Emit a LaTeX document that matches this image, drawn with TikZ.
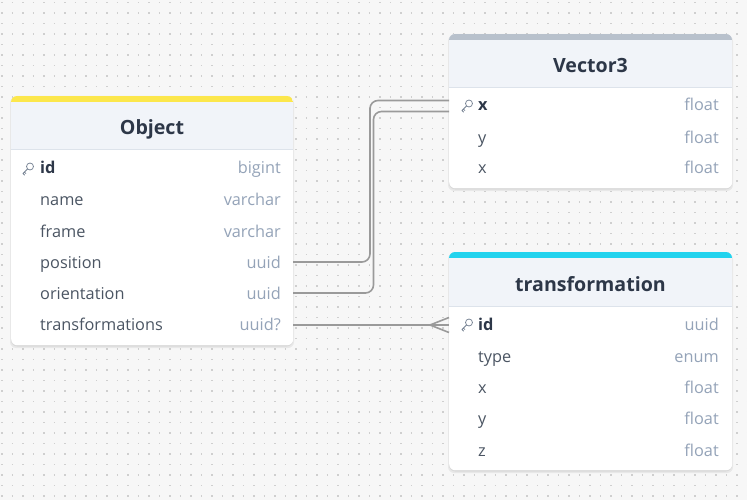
\documentclass[tikz,border=0pt]{standalone}
\usepackage{fontspec}
\setmainfont{Open Sans}
\usetikzlibrary{calc}
\definecolor{bg}{HTML}{F7F7F7}
\definecolor{dotc}{HTML}{CFCFCF}
\definecolor{hdr}{HTML}{F1F4F9}
\definecolor{sep}{HTML}{DDE3EB}
\definecolor{titlec}{HTML}{2D3748}
\definecolor{fieldc}{HTML}{4B5563}
\definecolor{typec}{HTML}{94A3B8}
\definecolor{barY}{HTML}{FCE74C}
\definecolor{barC}{HTML}{22D3EE}
\definecolor{barG}{HTML}{B8C1CC}
\definecolor{linkc}{HTML}{9A9A9A}
\tikzset{
  title/.style={font=\fontsize{19.6}{19.6}\selectfont\bfseries, text=titlec, inner sep=0pt, anchor=base},
  fieldtxt/.style={font=\fontsize{16.3}{16.3}\selectfont, text=fieldc, anchor=base west, inner sep=0pt},
  pkfield/.style={fieldtxt, font=\fontsize{16.3}{16.3}\selectfont\bfseries, text=titlec},
  typetxt/.style={font=\fontsize{16.3}{16.3}\selectfont, text=typec, anchor=base east, inner sep=0pt},
  link/.style={draw=linkc, line width=1.6pt, rounded corners=8pt},
  keyicon/.style={draw=typec!80!black, line width=0.75pt, line cap=round, line join=round}
}
\newcommand{\erdtable}[7]{% name, x1, y1, x2, y2, barcolor, title
  \fill[black, opacity=0.06, rounded corners=6pt] (#2-1,#3+1) rectangle (#4+1,#5+3);
  \fill[black, opacity=0.06, rounded corners=6pt] (#2,#3) rectangle (#4,#5+1.5);
  \node[draw=none, fill=white, rounded corners=6pt, minimum width=#4-#2, minimum height=#5-#3, inner sep=0pt, anchor=north west] (#1) at (#2,#3) {};
  \begin{scope}
    \clip[rounded corners=6pt] (#2,#3) rectangle (#4,#5);
    \fill[hdr] (#2,#3) rectangle (#4,#3+54);
    \fill[#6] (#2,#3) rectangle (#4,#3+6);
    \draw[sep, line width=1pt] (#2,#3+54) -- (#4,#3+54);
  \end{scope}
  \node[title] (#1-title) at ({(#2+#4)/2},#3+39) {#7};
}
\newcommand{\keyat}[2]{%
  \draw[keyicon] (#1+3,#2-1.5) circle (3.5);
  \draw[keyicon] (#1+0.5,#2+1) -- (#1-4,#2+5.5) -- (#1-2.3,#2+7.2) (#1-2.6,#2+4.1) -- (#1-1.1,#2+5.6);
}
\begin{document}
\begin{tikzpicture}[x=1pt,y=-1pt]
\useasboundingbox (0,0) rectangle (747,500);
\fill[bg] (0,0) rectangle (747,500);
\foreach \r in {0,...,48}{
  \draw[dotc, line width=1.2pt, dash pattern=on 1.2pt off 9.3pt] (1.4,2.5+\r*10.5) -- (747,2.5+\r*10.5);
}
% Object
\erdtable{obj}{11}{96}{293}{345}{barY}{Object}
\keyat{27}{168}
\node[pkfield] (obj-id) at (40,174) {id};
\node[typetxt] (obj-id-t) at (281,174) {bigint};
\node[fieldtxt] (obj-name) at (40,205) {name};
\node[typetxt] (obj-name-t) at (281,205) {varchar};
\node[fieldtxt] (obj-frame) at (40,237) {frame};
\node[typetxt] (obj-frame-t) at (281,237) {varchar};
\node[fieldtxt] (obj-pos) at (40,268) {position};
\node[typetxt] (obj-pos-t) at (281,268) {uuid};
\node[fieldtxt] (obj-ori) at (40,299) {orientation};
\node[typetxt] (obj-ori-t) at (281,299) {uuid};
\node[fieldtxt] (obj-tr) at (40,330) {transformations};
\node[typetxt] (obj-tr-t) at (281,330) {uuid?};
% Vector3
\erdtable{vec}{449}{34}{732}{188}{barG}{Vector3}
\keyat{466}{105}
\node[pkfield] (vec-x) at (478,111) {x};
\node[typetxt] (vec-x-t) at (719,111) {float};
\node[fieldtxt] (vec-y) at (478,143) {y};
\node[typetxt] (vec-y-t) at (719,143) {float};
\node[fieldtxt] (vec-x2) at (478,174) {x};
\node[typetxt] (vec-x2-t) at (719,174) {float};
% transformation
\erdtable{trf}{449}{252}{732}{470}{barC}{transformation}
\keyat{466}{324}
\node[pkfield] (trf-id) at (478,330) {id};
\node[typetxt] (trf-id-t) at (719,330) {uuid};
\node[fieldtxt] (trf-type) at (478,362) {type};
\node[typetxt] (trf-type-t) at (719,362) {enum};
\node[fieldtxt] (trf-x) at (478,393) {x};
\node[typetxt] (trf-x-t) at (719,393) {float};
\node[fieldtxt] (trf-y) at (478,424) {y};
\node[typetxt] (trf-y-t) at (719,424) {float};
\node[fieldtxt] (trf-z) at (478,456) {z};
\node[typetxt] (trf-z-t) at (719,456) {float};
% connector ends
\coordinate (pPos) at (293,262);
\coordinate (pOri) at (293,293);
\coordinate (pTr) at (293,325);
\coordinate (vA) at (449,100.5);
\coordinate (vB) at (449,111.5);
\coordinate (tA) at (449,325);
\coordinate (tU) at (449,317.5);
\coordinate (tD) at (449,332.5);
\coordinate (crow) at (430,325);
\draw[link] (pPos) -| (370,100.5) -- (vA);
\draw[link] (pOri) -| (373.5,111.5) -- (vB);
\draw[link, rounded corners=0pt] (pTr) -- (tA);
\draw[link, rounded corners=0pt] (tU) -- (crow) -- (tD);
\end{tikzpicture}
\end{document}
